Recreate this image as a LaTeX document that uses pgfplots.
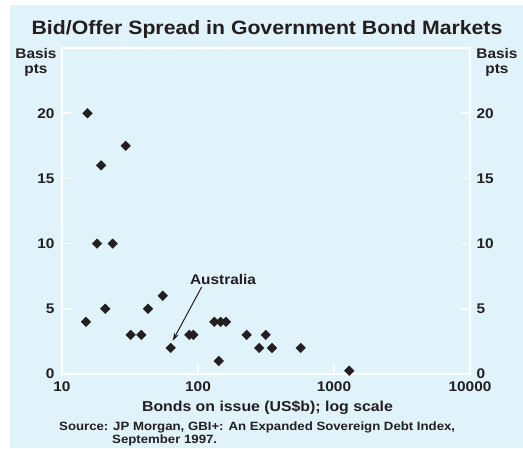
\documentclass[border=0pt]{standalone}
\usepackage{pgfplots}
\pgfplotsset{compat=1.18}
\usepackage{fontspec}
\setmainfont{Liberation Sans}[FakeStretch=1.1]
\usetikzlibrary{arrows.meta}
\definecolor{panel}{RGB}{224,242,250}
\definecolor{ink}{RGB}{35,31,32}
\begin{document}
\begin{tikzpicture}[x=1pt,y=1pt]
\path[use as bounding box] (-62,-74) rectangle (461,374);
\fill[white] (-62,-74) rectangle (461,374);
\fill[panel] (-52,-74) rectangle (461,369);
\begin{axis}[at={(0,0)}, anchor=south west, scale only axis,
  width=408pt, height=326pt,
  xmode=log, xmin=10, xmax=10000, ymin=0, ymax=25,
  xtick={10,100,1000,10000}, xticklabels={10,100,1000,10000}, xminorticks=false,
  ytick={0,5,10,15,20}, ytick pos=left, xtick pos=bottom,
  /pgf/number format/assume math mode=true,
  axis line style={white, line width=2pt},
  major tick length=9pt,
  tick style={white, line width=1.5pt},
  tick label style={font=\fontsize{14}{16}\selectfont\bfseries, text=ink},
  xticklabel style={yshift=-4pt},
  yticklabel style={xshift=-4pt},
  clip=false]
\addplot[only marks, mark=square*, mark size=3.4pt, mark options={rotate=45, fill=ink, draw=ink}]
coordinates {
(15.0,4) (20.8,5) (32,3) (38.3,3) (42.9,5) (55,6) (63,2) (86.3,3) (92.4,3)
(131.8,4) (146.8,4) (160.6,4) (142,1) (228,3) (282,2) (315,3) (350,2) (569,2)
(1296,0.25) (15.4,20) (29.4,17.5) (19.4,16) (18.1,10) (23.6,10)
};
\draw[ink, line width=1pt, -{Stealth[length=8pt,width=5pt]}] (axis cs:106.4,6.67) -- (axis cs:65.2,2.55);
\node[anchor=base, text=ink, font=\fontsize{14}{16}\selectfont\bfseries, inner sep=0pt] at (axis cs:152.8,6.9) {Australia};
\end{axis}
\begin{axis}[at={(0,0)}, anchor=south west, scale only axis,
  width=408pt, height=326pt,
  xmode=log, xmin=10, xmax=10000, ymin=0, ymax=25,
  hide x axis,
  ytick={0,5,10,15,20}, ytick pos=right, yticklabel pos=right,
  /pgf/number format/assume math mode=true,
  axis line style={white, line width=2pt},
  major tick length=9pt,
  tick style={white, line width=1.5pt},
  tick label style={font=\fontsize{14}{16}\selectfont\bfseries, text=ink},
  yticklabel style={xshift=3pt}]
\end{axis}
\begin{scope}[text=ink, inner sep=0pt]
\node[anchor=base, font=\fontsize{19.3}{22}\selectfont\bfseries] at (205,339) {Bid/Offer Spread in Government Bond Markets};
\node[anchor=base, font=\fontsize{14}{16}\selectfont\bfseries] at (-26,316) {Basis};
\node[anchor=base, font=\fontsize{14}{16}\selectfont\bfseries] at (-26,300) {pts};
\node[anchor=base, font=\fontsize{14}{16}\selectfont\bfseries] at (435,316) {Basis};
\node[anchor=base, font=\fontsize{14}{16}\selectfont\bfseries] at (435,300) {pts};
\node[anchor=base, font=\fontsize{14.4}{16}\selectfont\bfseries] at (205.5,-37.7) {Bonds on issue (US\$b); log scale};
\node[anchor=base west, font=\fontsize{12}{13}\selectfont\bfseries] at (-3,-56) {Source: JP Morgan, GBI+: An Expanded Sovereign Debt Index,};
\node[anchor=base west, font=\fontsize{12}{13}\selectfont\bfseries] at (50,-69) {September 1997.};
\end{scope}
\end{tikzpicture}
\end{document}
